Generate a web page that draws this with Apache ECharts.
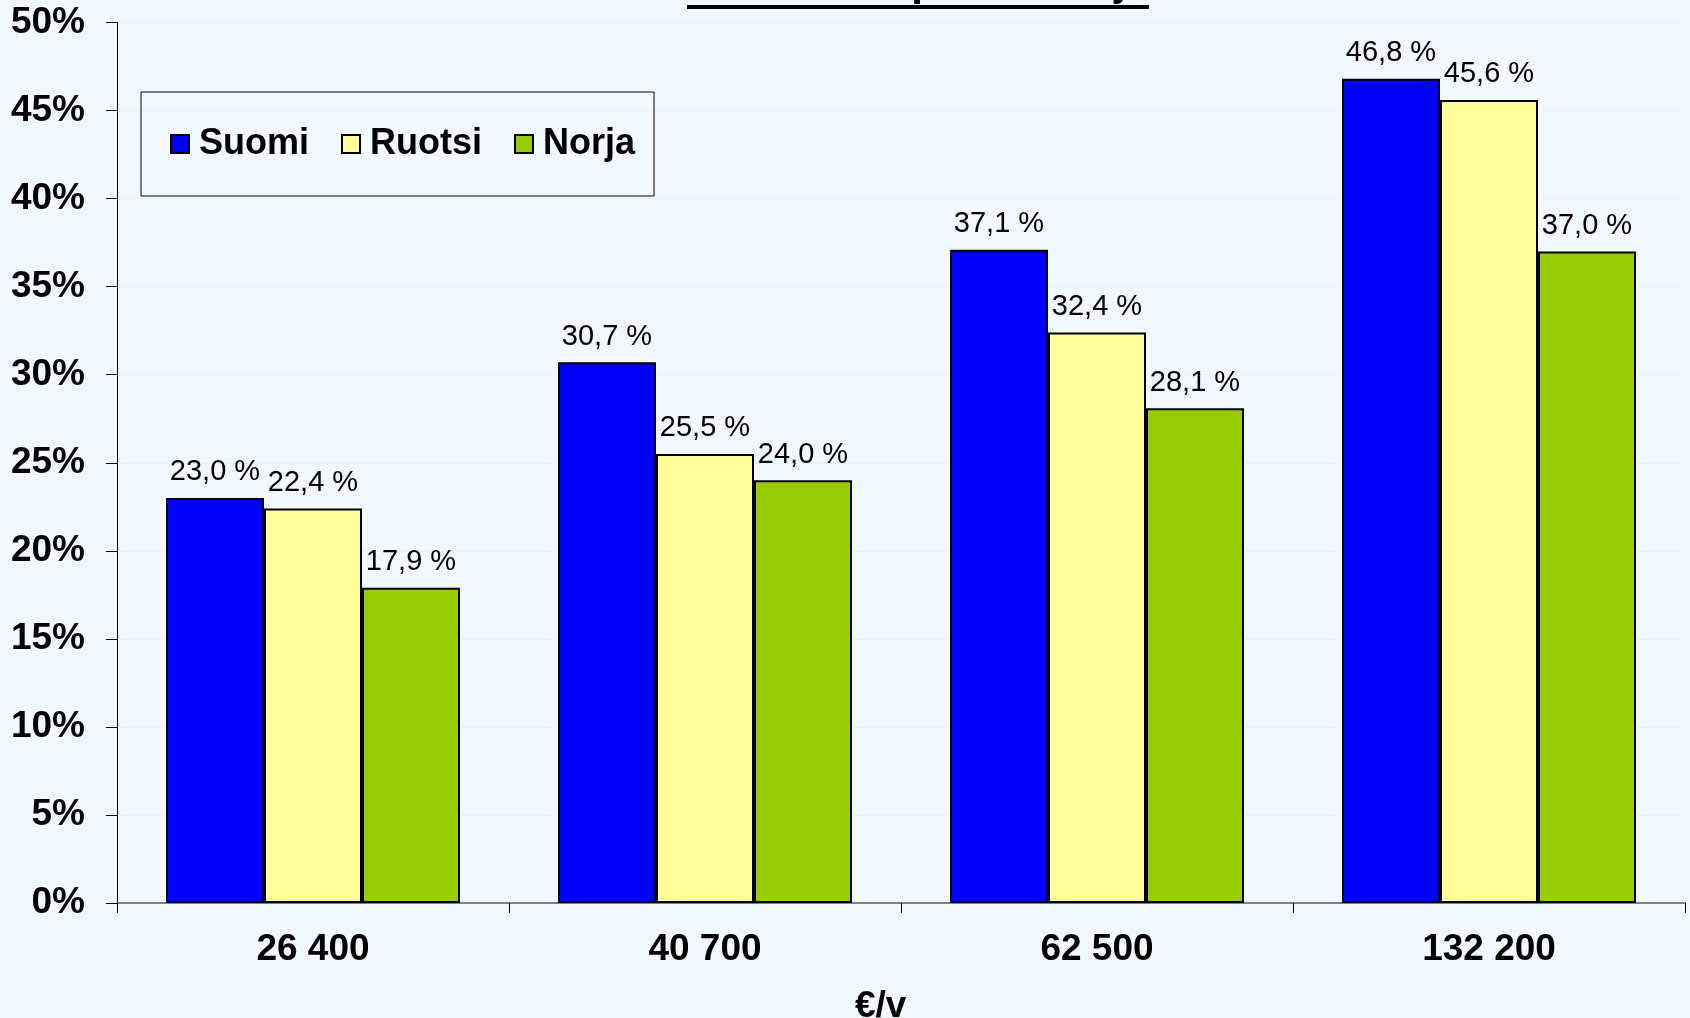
<!DOCTYPE html>
<html>
<head>
<meta charset="utf-8">
<script src="https://cdn.jsdelivr.net/npm/echarts@6/dist/echarts.min.js"></script>
<style>
html,body{margin:0;padding:0;background:#F1F8FE;}
#chart{width:1690px;height:1018px;}
</style>
</head>
<body>
<div id="chart"></div>
<script>
const categories = ['26 400', '40 700', '62 500', '132 200'];
const seriesNames = ['Suomi', 'Ruotsi', 'Norja'];
const suomi = [23.0, 30.7, 37.1, 46.8];
const ruotsi = [22.4, 25.5, 32.4, 45.6];
const norja = [17.9, 24.0, 28.1, 37.0];
const yTicks = [0, 5, 10, 15, 20, 25, 30, 35, 40, 45, 50];
const titleText = 'Veroasteet palkansaaja';
const axisNameText = '€/v';

const colors = ['#0000FF', '#FFFF99', '#99CC00'];
const font = '"Liberation Sans", Arial, sans-serif';

function fmt(p) {
  return p.value.toFixed(1).replace('.', ',') + ' %';
}

function makeSeries(name, data, color) {
  return {
    name: name,
    type: 'bar',
    data: data,
    barGap: '0%',
    barCategoryGap: '25%',
    itemStyle: { color: color, borderColor: '#000', borderWidth: 2 },
    label: {
      show: true,
      position: 'top',
      distance: 11,
      formatter: fmt,
      color: '#000',
      fontFamily: font,
      fontSize: 29
    },
    emphasis: { disabled: true }
  };
}

const chart = echarts.init(document.getElementById('chart'));
chart.setOption({
  backgroundColor: '#F1F8FE',
  animation: false,
  grid: { left: 117, right: 5, top: 22.5, bottom: 115, containLabel: false },
  legend: {
    left: 141,
    top: 92,
    padding: [34, 19, 34, 29],
    borderColor: '#000',
    borderWidth: 1,
    itemWidth: 18,
    itemHeight: 18,
    itemGap: 32,
    icon: 'rect',
    data: seriesNames,
    textStyle: { fontFamily: font, fontSize: 36, fontWeight: 'bold', color: '#000', padding: [0, 0, 0, 5] }
  },
  xAxis: {
    type: 'category',
    data: categories,
    axisLine: { lineStyle: { color: '#808080', width: 2 } },
    axisTick: { show: true, length: 10, lineStyle: { color: '#000', width: 1 } },
    axisLabel: { fontFamily: font, fontSize: 37, fontWeight: 'bold', color: '#000', margin: 28 },
    splitLine: { show: false }
  },
  yAxis: {
    type: 'value',
    min: yTicks[0],
    max: yTicks[yTicks.length - 1],
    interval: 5,
    axisLine: { show: true, lineStyle: { color: '#000', width: 1 } },
    axisTick: { show: true, length: 11, lineStyle: { color: '#000', width: 1 } },
    axisLabel: { fontFamily: font, fontSize: 37, fontWeight: 'bold', color: '#000', margin: 32, formatter: '{value}%' },
    splitLine: { show: true, lineStyle: { color: '#C4F6F8', type: 'dotted', width: 1 } }
  },
  series: [
    makeSeries(seriesNames[0], suomi, colors[0]),
    makeSeries(seriesNames[1], ruotsi, colors[1]),
    makeSeries(seriesNames[2], norja, colors[2])
  ],
  graphic: [
    {
      type: 'text',
      left: 687,
      top: -38,
      style: { text: titleText, fontFamily: font, fontSize: 42, fontWeight: 'bold', fill: '#000' },
      z: 10
    },
    {
      type: 'rect',
      shape: { x: 687, y: 5, width: 462, height: 4 },
      style: { fill: '#000' },
      z: 10
    },
    {
      type: 'text',
      left: 855,
      top: 988,
      style: { text: axisNameText, fontFamily: font, fontSize: 37, fontWeight: 'bold', fill: '#000' },
      z: 10
    }
  ]
});
</script>
</body>
</html>
